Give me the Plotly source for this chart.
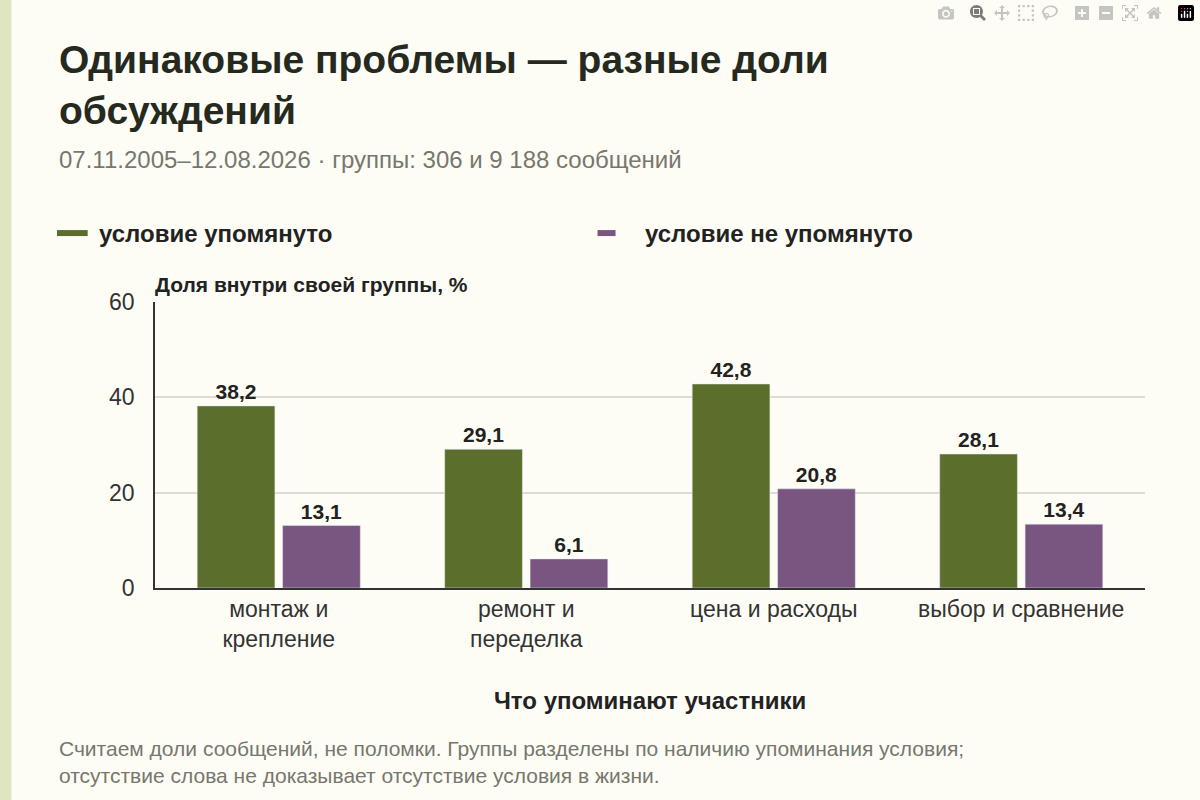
import plotly.graph_objects as go

categories = ["монтаж и<br>крепление", "ремонт и<br>переделка", "цена и расходы", "выбор и сравнение"]
mentioned = [38.2, 29.1, 42.8, 28.1]
not_mentioned = [13.1, 6.1, 20.8, 13.4]
GREEN = "#5b6e2b"
PURPLE = "#78567f"
FONT = "Liberation Sans"

def fmt(v):
    return f"{v:.1f}".replace(".", ",")

fig = go.Figure()
fig.add_bar(x=categories, y=mentioned, marker_color=GREEN, name="условие упомянуто",
            text=[fmt(v) for v in mentioned], textposition="outside", showlegend=False,
            textfont=dict(size=21, color="#222", family=FONT, weight="bold"), cliponaxis=False)
fig.add_bar(x=categories, y=not_mentioned, marker_color=PURPLE, name="условие не упомянуто",
            text=[fmt(v) for v in not_mentioned], textposition="outside", showlegend=False,
            textfont=dict(size=21, color="#222", family=FONT, weight="bold"), cliponaxis=False)

fig.add_shape(type="line", xref="paper", yref="paper", x0=-0.099, x1=-0.068, y0=1.241, y1=1.241,
              line=dict(color=GREEN, width=6))
fig.add_shape(type="line", xref="paper", yref="paper", x0=0.447, x1=0.478, y0=1.241, y1=1.241,
              line=dict(color=PURPLE, width=6, dash="dash"))
fig.add_annotation(xref="paper", yref="paper", x=-0.059, y=1.241, text="<b>условие упомянуто</b>",
                   showarrow=False, xanchor="left", yanchor="middle", font=dict(size=24, color="#222", family=FONT))
fig.add_annotation(xref="paper", yref="paper", x=0.493, y=1.241, text="<b>условие не упомянуто</b>",
                   showarrow=False, xanchor="left", yanchor="middle", font=dict(size=24, color="#222", family=FONT))

fig.add_annotation(xref="paper", yref="paper", x=-0.002, y=1.015, text="<b>Доля внутри своей группы, %</b>",
                   showarrow=False, xanchor="left", yanchor="bottom", font=dict(size=21, color="#222", family=FONT))
fig.add_annotation(xref="paper", yref="paper", x=0.5, y=-0.392, text="<b>Что упоминают участники</b>",
                   showarrow=False, xanchor="center", yanchor="middle", font=dict(size=24, color="#222", family=FONT))

fig.add_annotation(xref="paper", yref="paper", x=-0.099, y=1.93, text="<b>Одинаковые проблемы — разные доли<br>обсуждений</b>",
                   showarrow=False, xanchor="left", yanchor="top", align="left",
                   font=dict(size=39, color="#262a1e", family=FONT))
fig.add_annotation(xref="paper", yref="paper", x=-0.099, y=1.497, text="07.11.2005–12.08.2026 · группы: 306 и 9 188 сообщений",
                   showarrow=False, xanchor="left", yanchor="middle", font=dict(size=24, color="#77776d", family=FONT))
fig.add_annotation(xref="paper", yref="paper", x=-0.099, y=-0.515,
                   text="Считаем доли сообщений, не поломки. Группы разделены по наличию упоминания условия;<br>отсутствие слова не доказывает отсутствие условия в жизни.",
                   showarrow=False, xanchor="left", yanchor="top", align="left",
                   font=dict(size=21, color="#77776d", family=FONT))

fig.add_shape(type="rect", xref="paper", yref="paper", x0=-0.157, x1=-0.145, y0=-2, y1=3,
              fillcolor="#dfe6bf", line_width=0, layer="below")

fig.update_layout(
    width=1200, height=800, margin=dict(l=155, r=55, t=302, b=212),
    paper_bgcolor="#fdfdf6", plot_bgcolor="#fdfdf6",
    barmode="group", bargap=0.31, bargroupgap=0.09,
    font=dict(family=FONT, color="#333"),
    showlegend=False,
    xaxis=dict(tickfont=dict(size=23, color="#333"), showline=True, linecolor="#333", linewidth=1.5,
               ticks="", showgrid=False),
    yaxis=dict(range=[0, 60], tickvals=[0, 20, 40, 60], tickfont=dict(size=23, color="#333"),
               showline=True, linecolor="#333", linewidth=1.5, gridcolor="#dcdcd4", gridwidth=1.5,
               zeroline=False, ticks="", ticklabelstandoff=14),
)
fig.write_html("out.html", post_script="document.body.style.margin='0';document.body.style.background='#fdfdf6';")
